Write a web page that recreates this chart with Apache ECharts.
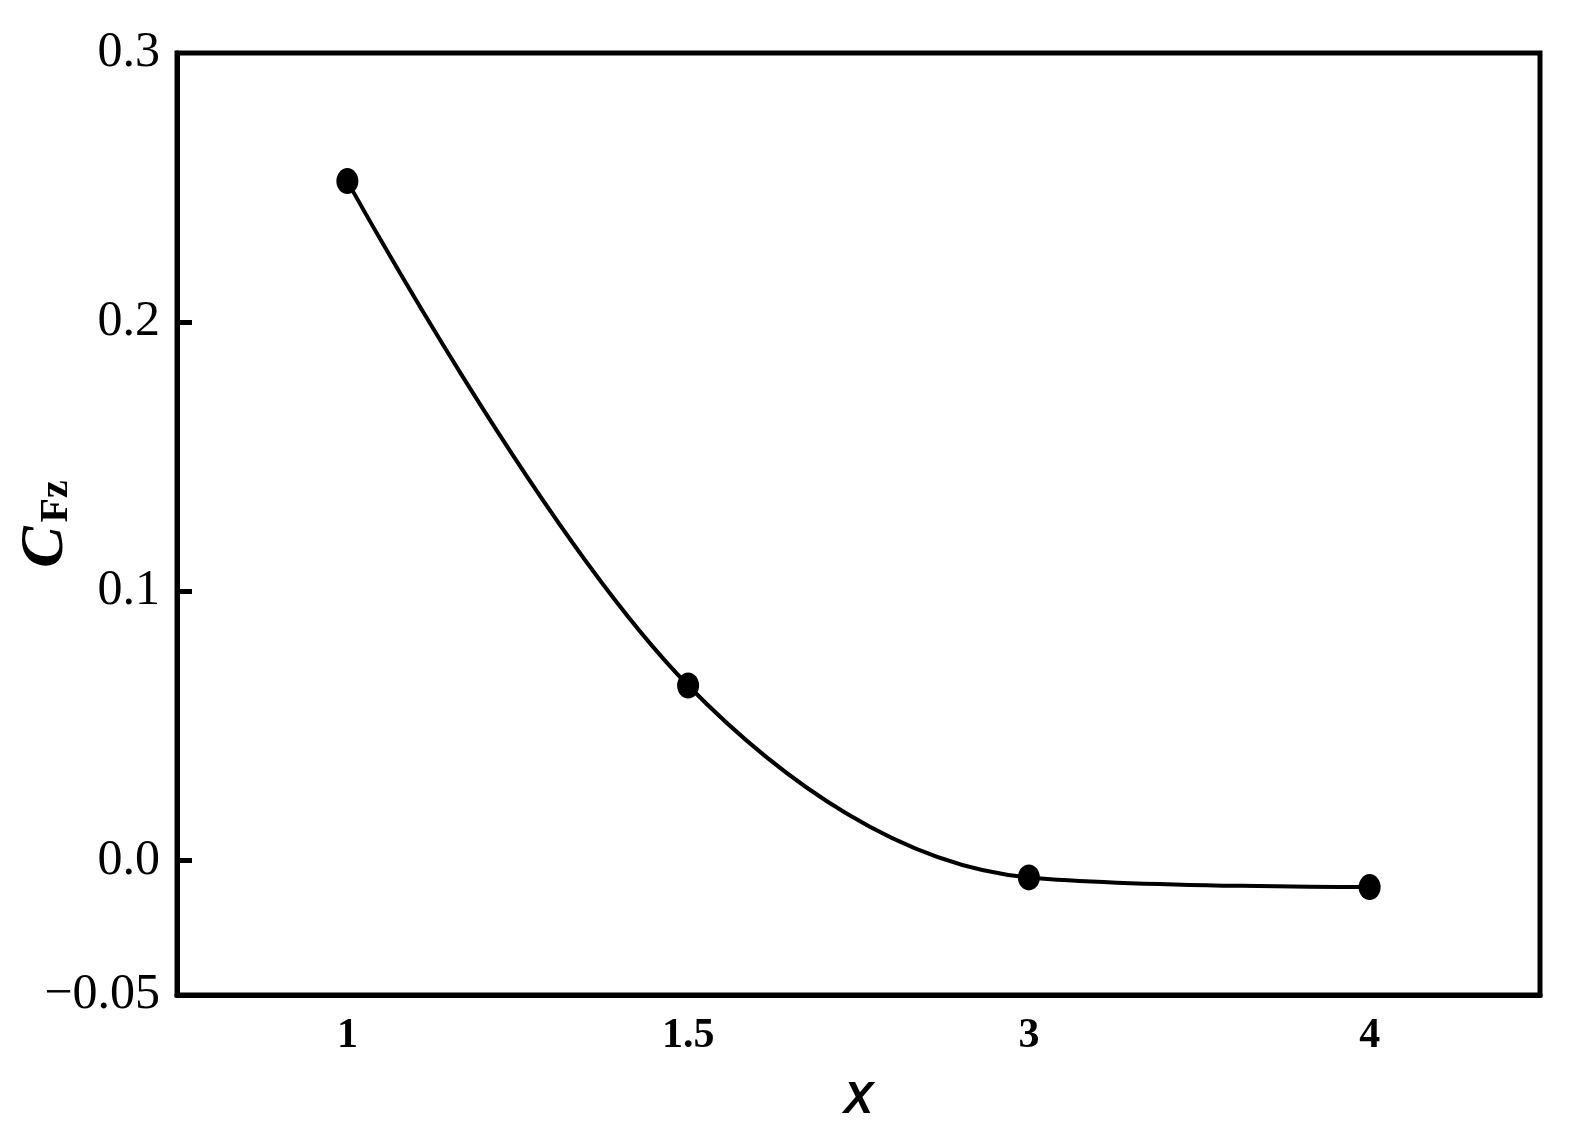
<!DOCTYPE html>
<html>
<head>
<meta charset="utf-8">
<script src="https://cdn.jsdelivr.net/npm/echarts@6/dist/echarts.min.js"></script>
<style>
	html, body { margin: 0; padding: 0; background: #fff; }
	#myChart { width: 1573px; height: 1135px; }
</style>
</head>
<body>
<div id="myChart"></div>
<script>
// data
var categories = ['1', '1.5', '3', '4'];
var cfzValues = [0.2524, 0.065, -0.0063, -0.0099];
var yLabelValues = [-0.05, 0, 0.1, 0.2, 0.3];
var yLabelTexts = ['\u22120.05', '0.0', '0.1', '0.2', '0.3'];
var yTickValues = [0, 0.1, 0.2];

var myChart = echarts.init(document.getElementById('myChart'));

var option = {
	backgroundColor: '#fff',
	animation: false,
	grid: {
		left: 177,
		top: 53,
		right: 33,
		bottom: 140,
		containLabel: false,
		outerBoundsMode: 'none',
		show: true,
		borderColor: '#000',
		borderWidth: 5
	},
	xAxis: {
		type: 'category',
		data: categories,
		boundaryGap: true,
		name: 'X',
		nameLocation: 'middle',
		nameGap: 84,
		nameMoveOverlap: false,
		nameTextStyle: {
			fontFamily: 'Liberation Sans',
			fontStyle: 'italic',
			fontWeight: 'bold',
			fontSize: 44,
			color: '#000'
		},
		axisLine: { onZero: false, lineStyle: { color: '#000', width: 5 } },
		axisTick: {
			alignWithLabel: true,
			inside: true,
			length: 15,
			lineStyle: { color: '#000', width: 5 }
		},
		axisLabel: {
			margin: 20,
			fontFamily: 'Liberation Serif',
			fontWeight: 'bold',
			fontSize: 42,
			color: '#000'
		},
		splitLine: { show: false }
	},
	yAxis: {
		type: 'value',
		min: -0.05,
		max: 0.3,
		name: '{c|C}{s|Fz}',
		nameLocation: 'middle',
		nameGap: 100,
		nameMoveOverlap: false,
		nameTextStyle: {
			rich: {
				c: {
					fontFamily: 'Liberation Serif',
					fontStyle: 'italic',
					fontWeight: 'bold',
					fontSize: 62,
					color: '#000'
				},
				s: {
					fontFamily: 'Liberation Serif',
					fontWeight: 'bold',
					fontSize: 40,
					color: '#000',
					padding: [22, 0, 0, 4]
				}
			}
		},
		axisLine: { show: true, lineStyle: { color: '#000', width: 5 } },
		axisTick: {
			show: true,
			inside: true,
			length: 15,
			customValues: yTickValues,
			lineStyle: { color: '#000', width: 5 }
		},
		axisLabel: {
			margin: 17,
			customValues: yLabelValues,
			fontFamily: 'Liberation Serif',
			fontSize: 50,
			color: '#000',
			formatter: function (v) {
				var i = yLabelValues.findIndex(function (t) { return Math.abs(t - v) < 1e-9; });
				return i >= 0 ? yLabelTexts[i] : '';
			}
		},
		splitLine: { show: false }
	},
	series: [{
		type: 'line',
		data: cfzValues,
		smooth: 0.35,
		symbol: 'circle',
		symbolSize: [22, 26],
		itemStyle: { color: '#000' },
		lineStyle: { color: '#000', width: 4 }
	}]
};
myChart.setOption(option);
</script>
</body>
</html>
